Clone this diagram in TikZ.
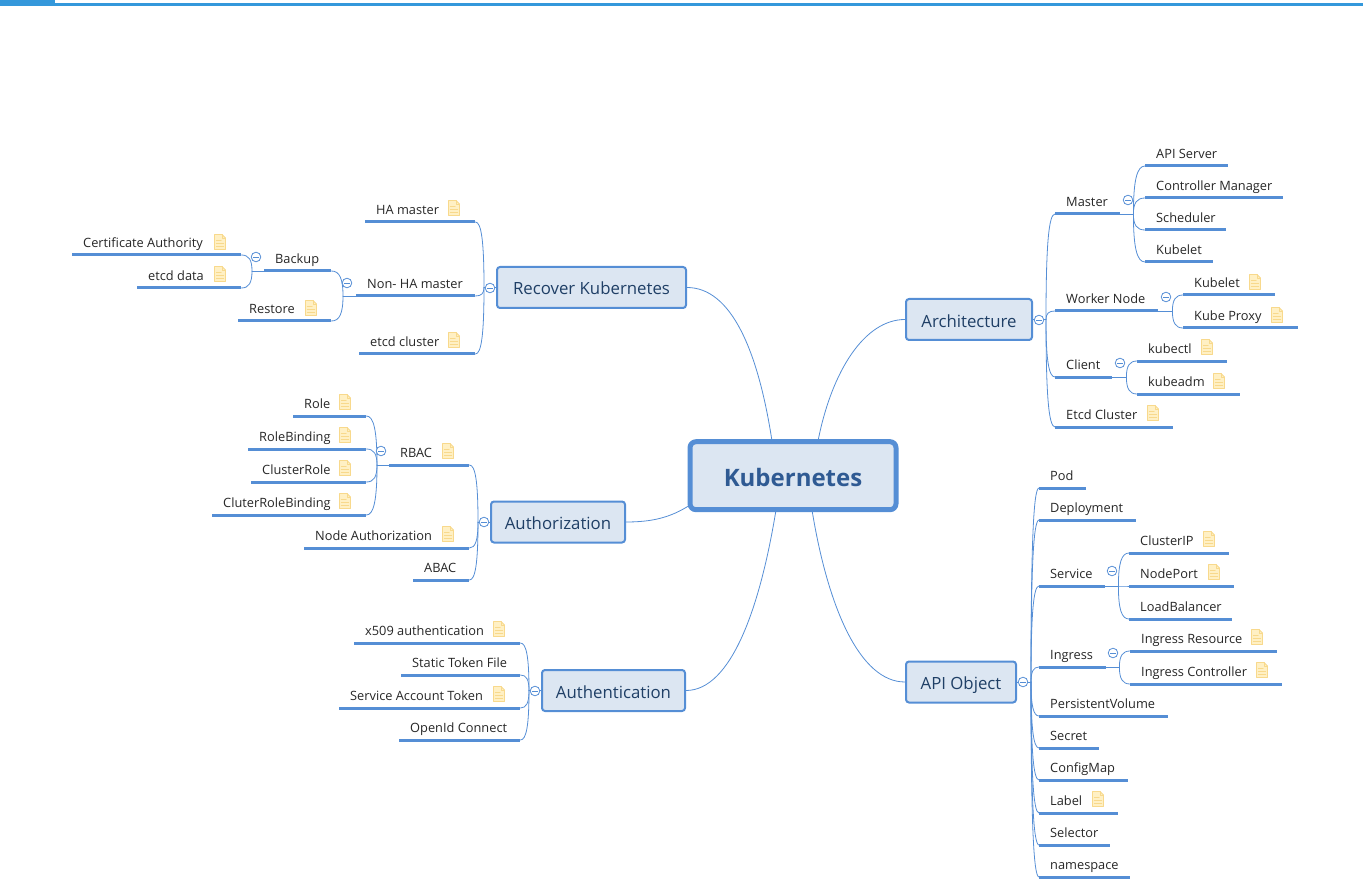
\documentclass[tikz,border=0pt]{standalone}
\usepackage{fontspec}
\setmainfont{Open Sans}
\usetikzlibrary{calc}
\definecolor{mapblue}{HTML}{558ED5}
\definecolor{mapfill}{HTML}{DCE6F2}
\definecolor{mapink}{HTML}{1F3F66}
\definecolor{rootink}{HTML}{2F5A93}
\definecolor{barblue}{HTML}{3498DB}
\definecolor{notefill}{HTML}{FFF0C4}
\definecolor{noteline}{HTML}{F8D98C}
\tikzset{
	topic/.style={anchor=south west,inner xsep=11pt,inner ysep=4pt,text height=10pt,text depth=3pt,font=\fontsize{12.8}{15}\selectfont,text=black!85},
	underline/.style={draw=mapblue,line width=3pt,line cap=butt},
	link/.style={draw=mapblue,line width=0.8pt},
	maintopic/.style={draw=mapblue,fill=mapfill,line width=2pt,rounded corners=3pt,inner sep=0pt,minimum height=41pt,text height=15pt,text depth=0pt,font=\fontsize{16.8}{20}\selectfont,text=mapink},
	pics/note/.style={code={
		\draw[noteline,fill=notefill,line width=0.9pt] (-5.5,-7.5)--(2,-7.5)--(5.5,-4)--(5.5,7.5)--(-5.5,7.5)--cycle;
		\draw[noteline,line width=0.9pt] (2,-7.5)--(2,-4)--(5.5,-4);
		\draw[noteline,line width=1.3pt] (-3.5,-1.5)--(1,-1.5) (-3.5,1.5)--(3.5,1.5) (-3.5,4.5)--(3.5,4.5);
	}},
	pics/fold/.style={code={
		\draw[mapblue,fill=white,line width=0.8pt] (0,0) circle (4.8pt);
		\draw[mapblue,line width=0.7pt] (-2.6,0)--(2.6,0);
	}}
}
\newcommand{\topic}[5]{%
	\node[topic,minimum width=#4pt] (#1) at (#2,#3) {\makebox[\dimexpr#4pt-22pt\relax][l]{#5}};
	\draw[underline] (#1.south west)--(#1.south east);
}
\newcommand{\branch}[2]{%
	\draw[link] (#1) .. controls ($(#1)!.7!(#1 |- #2)$) and ($(#1 |- #2)!.3!(#2)$) .. (#2);
}
\begin{document}
\begin{tikzpicture}[x=1pt,y=-1pt,line join=round,line cap=round]
	\useasboundingbox (0,0) rectangle (1363,893);
	\fill[barblue] (0,0) rectangle (55,6);
	\fill[barblue] (55,3) rectangle (1363,6);

	\node[draw=mapblue,fill=mapfill,line width=5pt,rounded corners=6pt,minimum width=206pt,minimum height=68pt,inner sep=0pt,text height=22pt,text depth=0pt,font=\fontsize{24}{28}\bfseries\selectfont,text=rootink] (root) at (793,475.7) {Kubernetes};
	\node[maintopic,minimum width=126pt] (architecture) at (969,319.5) {Architecture};
	\node[maintopic,minimum width=189pt] (recover) at (591.5,287.5) {Recover Kubernetes};
	\node[maintopic,minimum width=134pt] (authorization) at (558,522) {Authorization};
	\node[maintopic,minimum width=143pt] (authentication) at (613.5,690.5) {Authentication};
	\node[maintopic,minimum width=110pt] (apiobject) at (961,682) {API Object};

	\coordinate (rootarch) at (818,441);
	\coordinate (rootrec) at (772,441);
	\coordinate (rootauthz) at (690,505);
	\coordinate (rootauthn) at (776,510);
	\coordinate (rootapi) at (812,510);
	\draw[link] (rootarch) .. controls +(14,-71) and +(-40,0) .. (architecture.west);
	\draw[link] (rootrec) .. controls +(-14,-91) and +(44,0) .. (recover.east);
	\draw[link] (rootauthz) .. controls +(-20,13) and +(25,0) .. (authorization.east);
	\draw[link] (rootauthn) .. controls +(-16,98) and +(45,0) .. (authentication.east);
	\draw[link] (rootapi) .. controls +(16,98) and +(-45,0) .. (apiobject.west);

	\topic{master}{1055}{214}{65}{Master}
	\topic{workernode}{1055}{311}{103}{Worker Node}
	\topic{client}{1055}{377}{57}{Client}
	\topic{etcdcluster}{1055}{427}{118}{Etcd Cluster}
	\topic{apiserver}{1145}{166}{83}{API Server}
	\topic{controller}{1145}{198}{138}{Controller Manager}
	\topic{scheduler}{1145}{230}{81}{Scheduler}
	\topic{kubeletm}{1145}{262}{68}{Kubelet}
	\topic{kubeletw}{1183}{295}{92}{Kubelet}
	\topic{kubeproxy}{1183}{328}{115}{Kube Proxy}
	\topic{kubectl}{1137}{361}{90}{kubectl}
	\topic{kubeadm}{1137}{394}{103}{kubeadm}

	\topic{pod}{1039}{488}{47}{Pod}
	\topic{deployment}{1039}{520}{97}{Deployment}
	\topic{service}{1039}{586}{66}{Service}
	\topic{ingress}{1039}{667}{67}{Ingress}
	\topic{pv}{1039}{716}{129}{PersistentVolume}
	\topic{secret}{1039}{748}{60}{Secret}
	\topic{configmap}{1039}{780}{89}{ConfigMap}
	\topic{label}{1039}{813}{79}{Label}
	\topic{selector}{1039}{845}{71}{Selector}
	\topic{namespace}{1039}{877}{91}{namespace}
	\topic{clusterip}{1129}{553}{100}{ClusterIP}
	\topic{nodeport}{1129}{586}{105}{NodePort}
	\topic{loadbalancer}{1129}{619}{103}{LoadBalancer}
	\topic{ingressres}{1130}{651}{147}{Ingress Resource}
	\topic{ingressctl}{1130}{684}{152}{Ingress Controller}

	\topic{hamaster}{365}{222}{110}{HA master}
	\topic{nonha}{356}{296}{119}{Non- HA master}
	\topic{etcdc}{359}{354}{116}{etcd cluster}
	\topic{backup}{264}{271}{67}{Backup}
	\topic{restore}{238}{321}{93}{Restore}
	\topic{certauth}{72}{255}{169}{Certificate Authority}
	\topic{etcddata}{137}{288}{104}{etcd data}

	\topic{rbac}{389}{465}{80}{RBAC}
	\topic{nodeauth}{304}{548}{165}{Node Authorization}
	\topic{abac}{413}{580}{56}{ABAC}
	\topic{role}{293}{416}{73}{Role}
	\topic{rolebinding}{248}{449}{118}{RoleBinding}
	\topic{clusterrole}{251}{482}{115}{ClusterRole}
	\topic{cluterrb}{212}{515}{154}{CluterRoleBinding}

	\topic{xfive}{354}{643}{166}{x509 authentication}
	\topic{statictoken}{401}{675}{119}{Static Token File}
	\topic{satoken}{339}{708}{181}{Service Account Token}
	\topic{openid}{399}{740}{121}{OpenId Connect}

	\draw[link] (architecture.east)--++(13,0) coordinate (archj);
	\draw[link] (apiobject.east)--++(14,0) coordinate (apij);
	\draw[link] (recover.west)--++(-12,0) coordinate (recj);
	\draw[link] (authorization.west)--++(-12,0) coordinate (authzj);
	\draw[link] (authentication.west)--++(-12,0) coordinate (authnj);
	\draw[link] (master.south east)--++(13,0) coordinate (masterj);
	\draw[link] (workernode.south east)--++(14,0) coordinate (workerj);
	\draw[link] (client.south east)--++(14,0) coordinate (clientj);
	\draw[link] (service.south east)--++(13,0) coordinate (servicej);
	\draw[link] (ingress.south east)--++(13,0) coordinate (ingressj);
	\draw[link] (nonha.south west)--++(-13,0) coordinate (nonhaj);
	\draw[link] (backup.south west)--++(-12,0) coordinate (backupj);
	\draw[link] (rbac.south west)--++(-12,0) coordinate (rbacj);

	\foreach \j/\kids in {
		archj/{master,workernode,client,etcdcluster},
		masterj/{apiserver,controller,scheduler,kubeletm},
		workerj/{kubeletw,kubeproxy},
		clientj/{kubectl,kubeadm},
		apij/{pod,deployment,service,ingress,pv,secret,configmap,label,selector,namespace},
		servicej/{clusterip,nodeport,loadbalancer},
		ingressj/{ingressres,ingressctl}}
		\foreach \c in \kids {\branch{\j}{\c.south west}};

	\foreach \j/\kids in {
		recj/{hamaster,nonha,etcdc},
		nonhaj/{backup,restore},
		backupj/{certauth,etcddata},
		authzj/{rbac,nodeauth,abac},
		rbacj/{role,rolebinding,clusterrole,cluterrb},
		authnj/{xfive,statictoken,satoken,openid}}
		\foreach \c in \kids {\branch{\j}{\c.south east}};

	\foreach \p in {(1039,320),(1128,200),(1166,297),(1120,363),(1023,682),(1112,571),(1113,653),(490,288),(347,283),(256,257),(484,522),(381,451),(535,691)}
		\pic at \p {fold};
	\foreach \p in {(1255,282),(1277,315),(1207,347),(1219,381),(1153,413),(1209,539),(1214,572),(1257,637),(1262,670),(1098,799),(454,208),(454,340),(311,308),(220,242),(220,274),(448,451),(448,534),(345,402),(345,435),(345,468),(345,501),(499,629),(499,694)}
		\pic at \p {note};
\end{tikzpicture}
\end{document}
